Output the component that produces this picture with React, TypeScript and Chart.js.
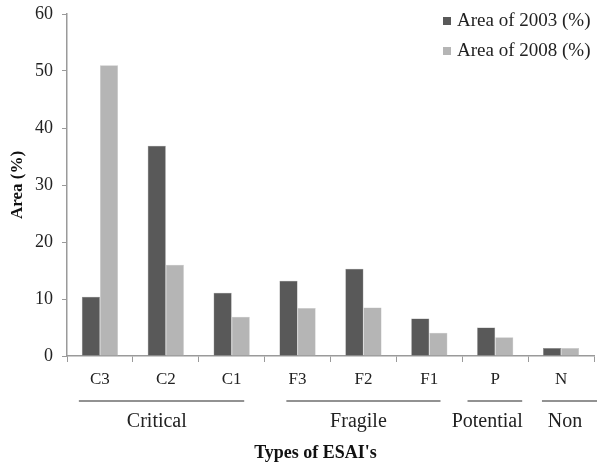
import React, { useEffect, useRef } from "react";
import { Chart, registerables } from "chart.js";

Chart.register(...registerables);

const categories = ["C3", "C2", "C1", "F3", "F2", "F1", "P", "N"];
const area2003 = [10.4, 36.9, 11.1, 13.2, 15.3, 6.6, 5.0, 1.4];
const area2008 = [51.0, 16.0, 6.9, 8.4, 8.5, 4.1, 3.3, 1.4];
const seriesLabels = ["Area of 2003 (%)", "Area of 2008 (%)"];
const groupNames = ["Critical", "Fragile", "Potential", "Non"];
const groupStart = [0, 3, 6, 7];
const groupEnd = [2, 5, 6, 7];
const yTicks = [0, 10, 20, 30, 40, 50, 60];
const xTitle = "Types of ESAI's";
const yTitle = "Area (%)";

const DARK = "#595959";
const LIGHT = "#b5b5b5";
const SERIF = "'Liberation Serif', 'Times New Roman', serif";

const groupPlugin = {
  id: "groupsAndLegend",
  afterDraw(chart: any) {
    const ctx = chart.ctx;
    const x = chart.scales.x;
    const area = chart.chartArea;
    const w = x.getPixelForValue(1) - x.getPixelForValue(0);
    const startOff = [-0.32, -0.17, -0.42, -0.29];
    const endOff = [0.19, 0.17, 0.41, 0.6];
    ctx.save();
    for (let i = 0; i < groupNames.length; i++) {
      const x0 = x.getPixelForValue(groupStart[i]) + startOff[i] * w;
      const x1 = Math.min(x.getPixelForValue(groupEnd[i]) + endOff[i] * w, chart.width);
      ctx.strokeStyle = "#6e6e6e";
      ctx.lineWidth = 1.5;
      ctx.beginPath();
      ctx.moveTo(x0, area.bottom + 45);
      ctx.lineTo(x1, area.bottom + 45);
      ctx.stroke();
    }
    ctx.fillStyle = "#222";
    ctx.font = `20px ${SERIF}`;
    ctx.textAlign = "center";
    ctx.textBaseline = "middle";
    const labelCenter = [
      (x.getPixelForValue(0) + x.getPixelForValue(2)) / 2 - 9,
      (x.getPixelForValue(3) + x.getPixelForValue(5)) / 2 - 5,
      x.getPixelForValue(6) - 8,
      x.getPixelForValue(7) + 4,
    ];
    for (let i = 0; i < groupNames.length; i++) {
      ctx.fillText(groupNames[i], labelCenter[i], area.bottom + 66);
    }
    ctx.font = `bold 18px ${SERIF}`;
    ctx.fillStyle = "#111";
    ctx.fillText(xTitle, (area.left + area.right) / 2 - 15, area.bottom + 97);
    const colors = [DARK, LIGHT];
    ctx.font = `19px ${SERIF}`;
    ctx.textAlign = "left";
    for (let i = 0; i < seriesLabels.length; i++) {
      const cy = 21 + i * 30;
      ctx.fillStyle = colors[i];
      ctx.fillRect(443, cy - 4, 8, 8);
      ctx.fillStyle = "#222";
      ctx.fillText(seriesLabels[i], 457, cy);
    }
    ctx.restore();
  },
};

export default function App() {
  const ref = useRef<HTMLCanvasElement | null>(null);
  useEffect(() => {
    document.body.style.margin = "0";
    const canvas = ref.current;
    if (!canvas) return;
    const chart = new Chart(canvas, {
      type: "bar",
      data: {
        labels: categories,
        datasets: [
          {
            label: seriesLabels[0],
            data: area2003,
            backgroundColor: DARK,
            borderColor: "#8a8a8a",
            borderWidth: 0.5,
            categoryPercentage: 0.55,
            barPercentage: 1.0,
          },
          {
            label: seriesLabels[1],
            data: area2008,
            backgroundColor: LIGHT,
            borderColor: "#c8c8c8",
            borderWidth: 0.5,
            categoryPercentage: 0.55,
            barPercentage: 1.0,
          },
        ],
      },
      options: {
        responsive: false,
        animation: false,
        devicePixelRatio: 1,
        layout: { padding: { top: 14, right: 3, left: 0, bottom: 0 } },
        plugins: {
          legend: { display: false },
          tooltip: { enabled: false },
        },
        scales: {
          x: {
            afterFit: (scale: any) => {
              scale.height = 110;
            },
            grid: {
              display: true,
              drawOnChartArea: false,
              drawTicks: true,
              tickLength: 6,
              offset: true,
              color: "#9a9a9a",
            },
            border: { display: true, color: "#9a9a9a", width: 1.5 },
            ticks: {
              color: "#222",
              font: { family: SERIF, size: 17 },
              padding: 7,
              maxRotation: 0,
            },
          },
          y: {
            min: 0,
            max: 60,
            afterFit: (scale: any) => {
              scale.width = 67;
              scale.paddingTop = 0;
            },
            afterBuildTicks: (scale: any) => {
              scale.ticks = yTicks.map((v) => ({ value: v }));
            },
            grid: {
              display: true,
              drawOnChartArea: false,
              drawTicks: true,
              tickLength: 5,
              color: "#9a9a9a",
            },
            border: { display: true, color: "#9a9a9a", width: 1.5 },
            ticks: {
              color: "#222",
              font: { family: SERIF, size: 18 },
              padding: 9,
            },
            title: {
              display: true,
              text: yTitle,
              color: "#111",
              font: { family: SERIF, size: 17, weight: "bold" },
              padding: { top: 7, bottom: 0 },
            },
          },
        },
      },
      plugins: [groupPlugin],
    });
    return () => chart.destroy();
  }, []);
  return <canvas ref={ref} width={597} height={466} style={{ display: "block" }} />;
}
